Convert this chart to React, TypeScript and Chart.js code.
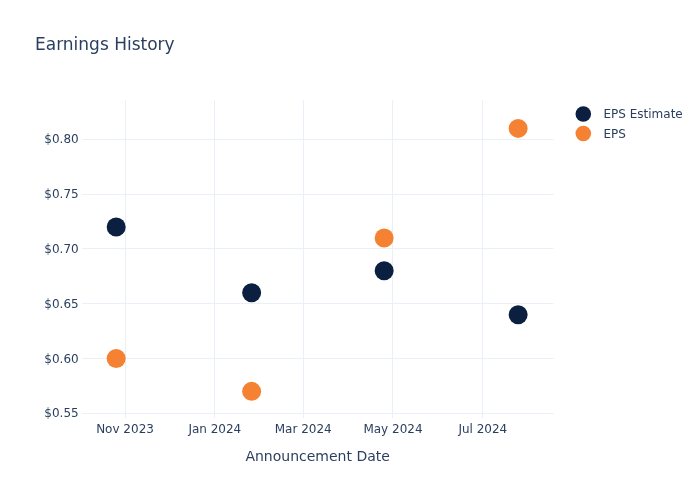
import React, { useEffect, useRef } from "react";
import { Chart, registerables } from "chart.js";

Chart.register(...registerables);

const announcementDates = ["2023-10-26", "2024-01-26", "2024-04-25", "2024-07-25"];
const epsEstimate = [0.72, 0.66, 0.68, 0.64];
const epsActual = [0.6, 0.57, 0.71, 0.81];
const seriesNames = ["EPS Estimate", "EPS"];
const seriesColors = ["#0b1f41", "#f58232"];
const xTickDates = ["2023-11-01", "2024-01-01", "2024-03-01", "2024-05-01", "2024-07-01"];
const xTickLabels = ["Nov 2023", "Jan 2024", "Mar 2024", "May 2024", "Jul 2024"];
const yTickValues = [0.55, 0.6, 0.65, 0.7, 0.75, 0.8];
const yTickLabels = ["$0.55", "$0.60", "$0.65", "$0.70", "$0.75", "$0.80"];
const xRange = ["2023-10-02T14:00:00Z", "2024-08-18T02:00:00Z"];
const yRange = [0.5457, 0.8359];

const FONT = "'DejaVu Sans', Verdana, sans-serif";
const TEXT = "#2a3f5f";
const GRID = "#ebf0f8";

const ts = (d: string) => new Date(d.length === 10 ? d + "T00:00:00Z" : d).getTime();

const legendPlugin = {
  id: "sideLegend",
  afterDraw(chart: any) {
    const ctx = chart.ctx;
    ctx.save();
    chart.data.datasets.forEach((ds: any, i: number) => {
      const y = 114 + i * 19.5;
      ctx.beginPath();
      ctx.arc(583.3, y, 7.8, 0, Math.PI * 2);
      ctx.fillStyle = ds.backgroundColor;
      ctx.fill();
      ctx.fillStyle = TEXT;
      ctx.font = `12px ${FONT}`;
      ctx.textAlign = "left";
      ctx.textBaseline = "middle";
      ctx.fillText(ds.label, 603.5, y + 1);
    });
    ctx.restore();
  },
};

export default function App() {
  const ref = useRef<HTMLCanvasElement>(null);
  useEffect(() => {
    document.body.style.margin = "0";
    const xs = announcementDates.map(ts);
    const chart = new Chart(ref.current!, {
      type: "scatter",
      data: {
        datasets: [
          {
            label: seriesNames[0],
            data: xs.map((x, i) => ({ x, y: epsEstimate[i] })),
            backgroundColor: seriesColors[0],
            borderWidth: 0,
            pointRadius: 9.5,
            pointHoverRadius: 9.5,
          },
          {
            label: seriesNames[1],
            data: xs.map((x, i) => ({ x, y: epsActual[i] })),
            backgroundColor: seriesColors[1],
            borderWidth: 0,
            pointRadius: 9.5,
            pointHoverRadius: 9.5,
          },
        ],
      },
      options: {
        responsive: false,
        animation: false,
        devicePixelRatio: 1,
        layout: { padding: { left: 35, right: 146.4, top: 0, bottom: 0 } },
        plugins: {
          legend: { display: false },
          tooltip: { enabled: false },
          title: {
            display: true,
            text: "Earnings History",
            align: "start",
            color: TEXT,
            font: { family: FONT, size: 17, weight: "normal" },
            padding: { top: 35.8, bottom: 43.8 },
          },
        },
        scales: {
          x: {
            type: "linear",
            min: ts(xRange[0]),
            max: ts(xRange[1]),
            afterBuildTicks: (s: any) => {
              s.ticks = xTickDates.map((d) => ({ value: ts(d) }));
            },
            afterFit: (s: any) => {
              s.height = 82;
            },
            ticks: {
              color: TEXT,
              font: { family: FONT, size: 12 },
              padding: 5,
              maxRotation: 0,
              autoSkip: false,
              callback: (v: any) => {
                const i = xTickDates.map(ts).indexOf(Number(v));
                return i >= 0 ? xTickLabels[i] : "";
              },
            },
            grid: { color: GRID, lineWidth: 1, drawTicks: false },
            border: { display: false },
            title: {
              display: true,
              text: "Announcement Date",
              color: TEXT,
              font: { family: FONT, size: 14 },
              padding: { top: 0, bottom: 34.6 },
            },
          },
          y: {
            type: "linear",
            min: yRange[0],
            max: yRange[1],
            afterBuildTicks: (s: any) => {
              s.ticks = yTickValues.map((v) => ({ value: v }));
            },
            afterFit: (s: any) => {
              s.width = 46.7;
            },
            ticks: {
              color: TEXT,
              font: { family: FONT, size: 12 },
              padding: 3,
              labelOffset: 1,
              callback: (v: any) => {
                const i = yTickValues.findIndex((t) => Math.abs(t - Number(v)) < 1e-9);
                return i >= 0 ? yTickLabels[i] : "";
              },
            },
            grid: { color: GRID, lineWidth: 1, drawTicks: false },
            border: { display: false },
          },
        },
      },
      plugins: [legendPlugin],
    });
    return () => chart.destroy();
  }, []);
  return (
    <div style={{ width: 700, height: 500, background: "#fff" }}>
      <canvas ref={ref} width={700} height={500} />
    </div>
  );
}
